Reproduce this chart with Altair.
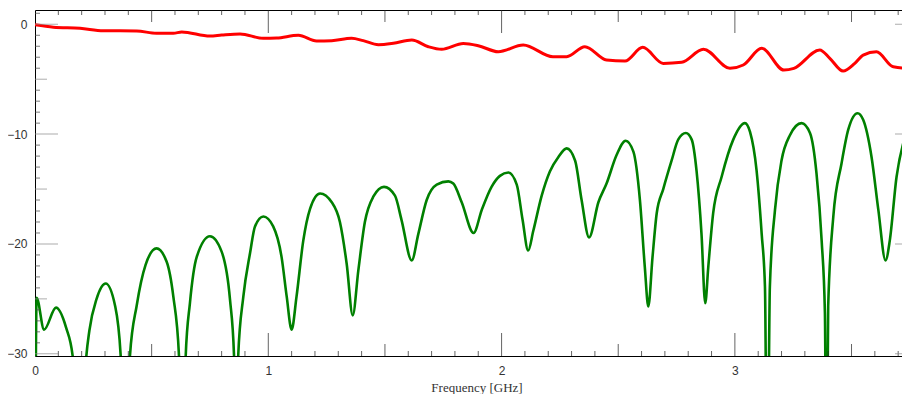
import altair as alt
import pandas as pd

# ---- data ----
red_x = [0.0, 0.079, 0.193, 0.293, 0.436, 0.521, 0.593, 0.629, 0.75, 0.80, 0.879, 0.979,
         1.036, 1.129, 1.207, 1.272, 1.357, 1.407, 1.472, 1.536, 1.615, 1.686, 1.743, 1.836,
         1.9, 1.986, 2.093, 2.22, 2.279, 2.357, 2.45, 2.529, 2.605, 2.693, 2.772, 2.865,
         2.979, 3.036, 3.115, 3.21, 3.253, 3.364, 3.407, 3.464, 3.514, 3.55, 3.607, 3.679,
         3.75, 3.785]
red_y = [-0.05, -0.27, -0.37, -0.58, -0.61, -0.82, -0.82, -0.70, -1.07, -0.98, -0.88, -1.28,
         -1.25, -1.0, -1.52, -1.49, -1.28, -1.49, -1.86, -1.73, -1.43, -2.04, -2.28, -1.75,
         -1.95, -2.5, -1.89, -2.95, -2.95, -2.04, -3.25, -3.35, -2.1, -3.56, -3.46, -2.28,
         -4.01, -3.71, -2.19, -4.17, -4.01, -2.34, -3.10, -4.26, -3.56, -2.8, -2.5, -3.87,
         -4.01, -4.0]

green_x = [0.0, 0.007, 0.039, 0.09, 0.133, 0.162, 0.19, 0.219, 0.233, 0.264, 0.303, 0.343,
           0.367, 0.387, 0.407, 0.436, 0.474, 0.521, 0.564, 0.593, 0.617, 0.632, 0.646, 0.664,
           0.693, 0.75, 0.80, 0.836, 0.853, 0.862, 0.871, 0.893, 0.922, 0.943, 0.979, 1.021,
           1.057, 1.079, 1.10, 1.121, 1.15, 1.179, 1.222, 1.272, 1.307, 1.336, 1.362, 1.386,
           1.414, 1.45, 1.496, 1.543, 1.571, 1.615, 1.643, 1.679, 1.722, 1.772, 1.793, 1.829,
           1.88, 1.915, 1.957, 1.993, 2.029, 2.065, 2.09, 2.114, 2.136, 2.172, 2.207, 2.243,
           2.279, 2.315, 2.343, 2.375, 2.415, 2.45, 2.493, 2.532, 2.565, 2.593, 2.614, 2.629,
           2.647, 2.665, 2.693, 2.729, 2.757, 2.79, 2.815, 2.836, 2.857, 2.873, 2.886, 2.907,
           2.943, 2.993, 3.043, 3.065, 3.093, 3.115, 3.129, 3.139, 3.15, 3.172, 3.2, 3.236,
           3.286, 3.322, 3.35, 3.372, 3.386, 3.393, 3.4, 3.422, 3.457, 3.486, 3.526, 3.55,
           3.586, 3.615, 3.646, 3.664, 3.693, 3.722, 3.75, 3.785]
green_y = [-45, -24.9, -27.8, -25.8, -27.6, -30.3, -45, -30.5, -27.9, -25.0, -23.6, -25.6,
           -30.1, -45, -30.2, -25.6, -21.9, -20.4, -21.6, -24.8, -30.1, -45, -30.2, -25.4,
           -21.2, -19.3, -20.7, -25.1, -30.1, -45, -30.2, -24.8, -20.8, -18.4, -17.5, -18.4,
           -21.2, -24.8, -27.8, -24.8, -19.7, -16.8, -15.4, -16.2, -18.0, -21.8, -26.5, -22.4,
           -18.0, -15.7, -14.8, -15.6, -17.8, -21.5, -19.1, -16.0, -14.6, -14.3, -14.5, -16.2,
           -19.0, -16.9, -14.8, -13.8, -13.5, -14.6, -17.8, -20.6, -18.8, -15.6, -13.4, -12.1,
           -11.3, -12.4, -16.0, -19.4, -16.2, -14.5, -11.9, -10.6, -11.6, -16.0, -22.1, -25.7,
           -21.2, -17.2, -15.0, -12.4, -10.5, -9.9, -10.5, -13.4, -19.1, -25.4, -22.1, -17.2,
           -13.9, -10.5, -9.0, -9.8, -13.3, -19.1, -23.9, -45, -23.9, -16.9, -12.4, -10.1,
           -9.0, -9.9, -13.6, -19.7, -26.3, -45, -25.7, -17.5, -12.7, -9.6, -8.1, -8.7,
           -12.1, -16.9, -21.5, -19.7, -13.9, -10.8, -9.3, -8.6]

x_labels = [0, 1, 2, 3]
y_labels = [0, -10, -20, -30]
x_title = "Frequency [GHz]"

# tick grids (inward ticks)
x_major = [1, 2, 3]
x_half = [0.5, 1.5, 2.5, 3.5]
x_minor = [round(0.1 * i, 1) for i in range(1, 38) if i % 5]
y_major = [0, -10, -20, -30]
y_half = [-5, -15, -25]
y_minor = [i for i in range(-29, 2) if i % 5]

W, H = 883, 346
xs = alt.Scale(domain=[0, 3.785], nice=False, zero=False)
ys = alt.Scale(domain=[-30.2, 1.3], nice=False, zero=False)

x_axis = alt.Axis(values=x_labels, title=x_title, labelFlush=False,
                  ticks=False, tickSize=0, domain=False, grid=False,
                  labelPadding=9, labelFont="Liberation Sans", labelFontSize=12,
                  labelColor="#333333", titleFont="Liberation Serif",
                  titleFontSize=13, titleFontWeight="normal", titleColor="#333333",
                  titleBaseline="alphabetic", titleY=35, format="d")
y_axis = alt.Axis(values=y_labels, title=None, ticks=False, tickSize=0,
                  domain=False, grid=False, labelPadding=8,
                  labelFont="Liberation Sans", labelFontSize=12,
                  labelColor="#333333", format="d")

red_df = pd.DataFrame({"f": red_x, "db": red_y})
green_df = pd.DataFrame({"f": green_x, "db": green_y})

xticks = pd.DataFrame(
    {"f": x_major + x_half + x_minor,
     "len": [46] * len(x_major) + [24] * len(x_half) + [10] * len(x_minor)})
yticks = pd.DataFrame(
    {"db": y_major + y_half + y_minor,
     "len": [46] * len(y_major) + [24] * len(y_half) + [10] * len(y_minor),
     "c": ["#8a8a8a"] * (len(y_major) + len(y_half)) + ["#444444"] * len(y_minor)})

X = alt.X("f:Q", scale=xs, axis=x_axis)
Y = alt.Y("db:Q", scale=ys, axis=y_axis)

green = alt.Chart(green_df).mark_line(
    color="#008000", strokeWidth=2.6, interpolate="monotone", clip=True
).encode(x=X, y=Y)

red = alt.Chart(red_df).mark_line(
    color="#ff0000", strokeWidth=3, interpolate="monotone", clip=True
).encode(x=X, y=Y)

tick_bottom = alt.Chart(xticks).mark_tick(orient="vertical", thickness=1, color="#222222", clip=True).encode(
    x=X, y=alt.value(H), size=alt.Size("len:Q", scale=None))
tick_top = alt.Chart(xticks).mark_tick(orient="vertical", thickness=1, color="#222222", clip=True).encode(
    x=X, y=alt.value(0), size=alt.Size("len:Q", scale=None))
tick_left = alt.Chart(yticks).mark_tick(orient="horizontal", thickness=1, clip=True).encode(
    y=Y, x=alt.value(0), size=alt.Size("len:Q", scale=None),
    color=alt.Color("c:N", scale=None))
tick_right = alt.Chart(yticks).mark_tick(orient="horizontal", thickness=1, clip=True).encode(
    y=Y, x=alt.value(W), size=alt.Size("len:Q", scale=None),
    color=alt.Color("c:N", scale=None))

chart = alt.layer(green, red, tick_bottom, tick_top, tick_left, tick_right).properties(
    width=W, height=H,
    autosize=alt.AutoSizeParams(type="none"),
    padding={"left": 27, "top": 2, "right": -16, "bottom": 38},
).configure_view(stroke="#000000", strokeWidth=1)

chart.save("out.html", embed_options={"renderer": "svg", "actions": False})
